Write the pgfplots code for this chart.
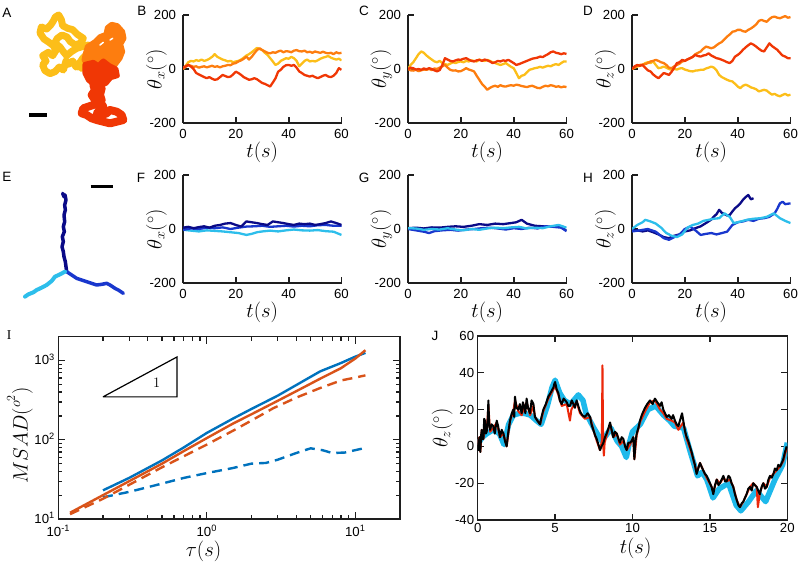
\documentclass[border=0pt]{standalone}
\usepackage{fontspec}
\setmainfont{Liberation Sans}
\usepackage{pgfplots}
\pgfplotsset{compat=1.18}
\definecolor{cY}{RGB}{252,190,25}
\definecolor{cO}{RGB}{253,125,15}
\definecolor{cR}{RGB}{240,55,5}
\definecolor{bN}{RGB}{10,10,135}
\definecolor{bM}{RGB}{25,55,205}
\definecolor{bC}{RGB}{45,190,235}
\definecolor{mB}{RGB}{0,114,189}
\definecolor{mO}{RGB}{217,83,25}
\definecolor{jC}{RGB}{30,185,235}
\definecolor{jR}{RGB}{235,40,10}
\definecolor{axc}{RGB}{30,30,30}
\pgfplotsset{
 tsax/.style={scale only axis, anchor=south west, width=158.5pt, height=108pt,
  axis lines=left, axis line style={-, line width=1.7pt, color=axc},
  xmin=0, xmax=60, ymin=-200, ymax=200, xtick={0,20,40,60}, ytick={-200,0,200},
  tick align=inside, major tick length=6pt, tick style={line width=1.7pt, color=axc},
  tick label style={font=\fontsize{13.2}{15}\selectfont},
  /pgf/number format/assume math mode=true,
  yticklabel style={xshift=-3.5pt}, xticklabel style={yshift=-2.5pt},
  label style={font=\fontsize{20.74}{23}\selectfont},
  xlabel={$t(s)$},
  xlabel style={at={(axis description cs:0.5,-0.27)}, anchor=center},
  ylabel style={at={(axis description cs:-0.168,0.5)}, anchor=center},
  every axis plot/.append style={line width=2.3pt, line join=round}},
 hid/.style={scale only axis, anchor=south west, hide axis, clip=false,
  every axis plot/.append style={line join=round, line cap=round}},
}
\begin{document}
\begin{tikzpicture}[x=1pt,y=1pt]
\useasboundingbox (0,0) rectangle (800,566);
\tikzset{lab/.style={font=\fontsize{13.5}{15}\selectfont, inner sep=0pt}}
\node[lab] at (7,553) {A};
\node[lab] at (142,555) {B};
\node[lab] at (364,555) {C};
\node[lab] at (588,555) {D};
\node[lab] at (7,389) {E};
\node[lab] at (141,388) {F};
\node[lab] at (364,388) {G};
\node[lab] at (588,388) {H};
\node[lab] at (9,231) {\fontspec{Liberation Serif}I};
\node[lab] at (435,230) {J};

% ---------- A ----------
\begin{axis}[hid, at={(0pt,436pt)}, width=130pt, height=125pt, xmin=0, xmax=390, ymin=-375, ymax=0]
\addplot[cY, line width=7pt] coordinates {(245,-190)(238,-178)(228,-186)(218,-168)(205,-178)(198,-168)(190,-195)(178,-186)(165,-200)(150,-206)(135,-197)(128,-180)(138,-168)(128,-152)(145,-142)(158,-152)(168,-136)(160,-122)(147,-112)(132,-102)(120,-84)(124,-66)(140,-72)(152,-60)(160,-48)(166,-36)(176,-30)(184,-44)(188,-62)(203,-70)(218,-74)(232,-88)(250,-100)(242,-114)(226,-120)(211,-110)(201,-96)(186,-90)(172,-100)(164,-114)(180,-126)(190,-140)(200,-152)(214,-140)(230,-130)(250,-124)(265,-120)(270,-136)(258,-150)(248,-160)(240,-172)(232,-186)};
\addplot[cO, fill=cO, line width=5pt] coordinates {(255,-150)(262,-125)(285,-110)(300,-95)(318,-88)(322,-68)(335,-58)(352,-62)(368,-80)(372,-100)(362,-118)(368,-140)(360,-160)(345,-180)(325,-190)(300,-195)(280,-190)(262,-178)(252,-165)(255,-150)};
\addplot[white, line width=1.5pt] coordinates {(300,-120)(310,-112)};
\addplot[white, line width=1.5pt] coordinates {(330,-105)(338,-100)};
\addplot[cR, fill=cR, line width=5pt] coordinates {(255,-178)(280,-172)(295,-182)(310,-168)(328,-182)(348,-192)(352,-212)(332,-218)(318,-235)(300,-240)(280,-238)(265,-225)(255,-205)(255,-178)};
\addplot[cR, line width=8pt] coordinates {(300,-235)(305,-250)(300,-270)(305,-285)(295,-295)(280,-300)(265,-305)(250,-310)(245,-325)(260,-330)(275,-340)(290,-345)(310,-350)(330,-355)(350,-350)(370,-345)(365,-330)(350,-320)(330,-315)(320,-325)(305,-330)(290,-325)(300,-315)(310,-305)(300,-290)(285,-285)(275,-270)(285,-255)(280,-240)};
\addplot[black, line width=3.5pt, line cap=butt] coordinates {(88,-330)(140,-330)};
\end{axis}

% ---------- B ----------
\begin{axis}[tsax, at={(183pt,443pt)}, ylabel={$\theta_x(^\circ)$}]
\addplot[cY] coordinates {(0,0)(1,12)(2,25)(3,30)(4,28)(5,33)(6,30)(7,35)(8,30)(9,33)(10,38)(11,45)(12,55)(13,45)(14,40)(15,35)(16,32)(17,28)(18,30)(19,25)(20,28)(21,30)(22,35)(23,42)(24,50)(25,55)(26,62)(27,70)(28,78)(29,74)(30,70)(31,60)(32,52)(33,40)(34,28)(35,15)(36,20)(37,30)(38,35)(39,40)(40,38)(41,45)(42,40)(43,30)(44,10)(45,20)(46,30)(47,35)(48,28)(49,30)(50,28)(51,32)(52,38)(53,42)(54,45)(55,48)(56,42)(57,38)(58,35)(59,38)(60,32)};
\addplot[cO] coordinates {(0,0)(1,8)(2,15)(3,12)(4,8)(5,10)(6,5)(7,8)(8,10)(9,6)(10,9)(11,12)(12,8)(13,10)(14,6)(15,10)(16,12)(17,15)(18,14)(19,20)(20,22)(21,28)(22,32)(23,38)(24,46)(25,35)(26,45)(27,58)(28,70)(29,77)(30,70)(31,65)(32,60)(33,58)(34,62)(35,60)(36,65)(37,68)(38,62)(39,66)(40,65)(41,62)(42,68)(43,70)(44,66)(45,65)(46,68)(47,62)(48,64)(49,60)(50,65)(51,62)(52,60)(53,64)(54,60)(55,58)(56,60)(57,55)(58,62)(59,58)(60,60)};
\addplot[cR] coordinates {(0,5)(1,10)(2,15)(3,9)(4,0)(5,-15)(6,-20)(7,-25)(8,-30)(9,-34)(10,-30)(11,-36)(12,-40)(13,-38)(14,-30)(15,-22)(16,-26)(17,-30)(18,-28)(19,-20)(20,-10)(21,-15)(22,-22)(23,-30)(24,-35)(25,-40)(26,-38)(27,-34)(28,-38)(29,-45)(30,-52)(31,-55)(32,-60)(33,-65)(34,-50)(35,-35)(36,-10)(37,-3)(38,8)(39,14)(40,15)(41,12)(42,15)(43,5)(44,-9)(45,-15)(46,-22)(47,-25)(48,-28)(49,-25)(50,-30)(51,-34)(52,-30)(53,-25)(54,-22)(55,-28)(56,-30)(57,-25)(58,-15)(59,3)(60,-3)};
\end{axis}

% ---------- C ----------
\begin{axis}[tsax, at={(408pt,443pt)}, ylabel={$\theta_y(^\circ)$}]
\addplot[cY] coordinates {(0,0)(1,15)(2,25)(3,40)(4,55)(5,65)(6,60)(7,50)(8,42)(9,35)(10,28)(11,25)(12,30)(13,22)(14,18)(15,15)(16,20)(17,25)(18,22)(19,26)(20,28)(21,25)(22,30)(23,28)(24,32)(25,30)(26,28)(27,35)(28,32)(29,30)(30,34)(31,30)(32,25)(33,22)(34,18)(35,15)(36,18)(37,22)(38,15)(39,8)(40,3)(41,-15)(42,-34)(43,-25)(44,-22)(45,-12)(46,-3)(47,0)(48,3)(49,5)(50,8)(51,5)(52,9)(53,12)(54,10)(55,15)(56,18)(57,15)(58,22)(59,28)(60,28)};
\addplot[cO] coordinates {(0,0)(1,-5)(2,-6)(3,-3)(4,-8)(5,-5)(6,-2)(7,-3)(8,0)(9,-4)(10,2)(11,0)(12,5)(13,10)(14,15)(15,5)(16,-3)(17,-6)(18,-5)(19,-9)(20,-8)(21,-3)(22,3)(23,-2)(24,-5)(25,-9)(26,-25)(27,-40)(28,-55)(29,-65)(30,-77)(31,-70)(32,-65)(33,-62)(34,-66)(35,-60)(36,-64)(37,-65)(38,-62)(39,-60)(40,-62)(41,-58)(42,-60)(43,-63)(44,-65)(45,-67)(46,-64)(47,-62)(48,-66)(49,-70)(50,-71)(51,-66)(52,-62)(53,-64)(54,-60)(55,-62)(56,-66)(57,-64)(58,-68)(59,-65)(60,-67)};
\addplot[cR] coordinates {(0,0)(1,5)(2,3)(3,-2)(4,0)(5,-3)(6,2)(7,-1)(8,3)(9,0)(10,-5)(11,-9)(12,-4)(13,15)(14,40)(15,35)(16,30)(17,28)(18,32)(19,35)(20,34)(21,38)(22,40)(23,35)(24,30)(25,28)(26,32)(27,34)(28,30)(29,35)(30,32)(31,28)(32,22)(33,25)(34,30)(35,28)(36,32)(37,30)(38,34)(39,28)(40,22)(41,15)(42,18)(43,22)(44,26)(45,30)(46,34)(47,38)(48,40)(49,42)(50,46)(51,44)(52,50)(53,55)(54,62)(55,65)(56,60)(57,58)(58,55)(59,58)(60,56)};
\end{axis}

% ---------- D ----------
\begin{axis}[tsax, at={(632pt,443pt)}, ylabel={$\theta_z(^\circ)$}]
\addplot[cY] coordinates {(0,0)(1,5)(2,9)(3,12)(4,15)(5,22)(6,25)(7,22)(8,28)(9,15)(10,3)(11,5)(12,9)(13,5)(14,0)(15,-3)(16,0)(17,-2)(18,2)(19,3)(20,-2)(21,-5)(22,-8)(23,-9)(24,-6)(25,-5)(26,-3)(27,-3)(28,2)(29,5)(30,9)(31,5)(32,-5)(33,-22)(34,-30)(35,-35)(36,-40)(37,-44)(38,-46)(39,-55)(40,-65)(41,-71)(42,-62)(43,-58)(44,-62)(45,-68)(46,-71)(47,-75)(48,-83)(49,-80)(50,-77)(51,-80)(52,-88)(53,-95)(54,-92)(55,-98)(56,-101)(57,-96)(58,-92)(59,-98)(60,-95)};
\addplot[cO] coordinates {(0,0)(2,12)(3,15)(5,18)(6,22)(7,28)(8,30)(9,34)(10,30)(11,25)(12,22)(13,15)(14,5)(15,3)(16,10)(17,15)(18,20)(19,28)(20,30)(21,35)(22,40)(23,45)(24,55)(25,60)(26,65)(27,75)(28,83)(29,80)(30,77)(31,80)(32,88)(33,95)(34,100)(35,110)(36,120)(37,128)(38,138)(39,140)(40,145)(41,145)(42,140)(43,138)(44,145)(45,150)(46,157)(47,165)(48,178)(49,182)(50,178)(51,175)(52,185)(53,192)(54,194)(55,190)(56,188)(57,192)(58,196)(59,190)(60,192)};
\addplot[cR] coordinates {(0,0)(1,10)(2,15)(3,12)(4,15)(5,5)(6,-5)(7,-9)(8,-20)(9,-28)(10,-34)(11,-25)(12,-15)(13,-18)(14,-22)(15,-10)(16,5)(17,22)(18,25)(19,34)(20,30)(21,36)(22,40)(23,45)(24,52)(25,48)(26,46)(27,50)(28,52)(29,58)(30,50)(31,45)(32,40)(33,38)(34,34)(35,30)(36,25)(37,22)(38,30)(39,46)(40,52)(41,60)(42,71)(43,80)(44,88)(45,95)(46,90)(47,83)(48,75)(49,68)(50,65)(51,80)(52,95)(53,85)(54,78)(55,71)(56,60)(57,50)(58,46)(59,40)(60,40)};
\end{axis}

% ---------- E ----------
\begin{axis}[hid, at={(0pt,266pt)}, width=140pt, height=125pt, xmin=0, xmax=420, ymin=-375, ymax=0]
\addplot[bN, line width=3.5pt] coordinates {(188,-55)(192,-65)(195,-60)(198,-75)(194,-90)(196,-105)(192,-120)(194,-140)(190,-155)(193,-170)(187,-185)(190,-200)(186,-215)(190,-230)(192,-245)(196,-260)(198,-275)(200,-290)};
\addplot[bM, line width=3.5pt] coordinates {(200,-290)(215,-300)(230,-310)(245,-315)(260,-320)(275,-325)(290,-330)(305,-328)(320,-325)(330,-330)(345,-340)(355,-345)(370,-355)};
\addplot[bC, line width=4pt] coordinates {(195,-290)(180,-298)(165,-305)(155,-318)(140,-330)(125,-338)(110,-345)(100,-352)(85,-358)(75,-365)};
\addplot[black, line width=3.5pt, line cap=butt] coordinates {(272,-35)(340,-35)};
\end{axis}

% ---------- F ----------
\begin{axis}[tsax, at={(183pt,283pt)}, ylabel={$\theta_x(^\circ)$}]
\addplot[bC] coordinates {(0,-3)(3,-6)(6,-9)(9,-5)(12,-7)(15,-9)(18,-12)(21,-15)(24,-22)(26,-18)(28,-12)(30,-9)(33,-6)(36,-9)(39,-5)(42,-2)(45,-5)(48,-6)(51,-4)(54,-8)(57,-10)(60,-22)};
\addplot[bM] coordinates {(0,-3)(3,2)(6,0)(9,5)(12,3)(15,6)(18,0)(21,5)(24,9)(27,10)(30,12)(33,8)(36,10)(39,12)(42,9)(45,12)(48,10)(51,14)(54,15)(57,12)(60,12)};
\addplot[bN] coordinates {(0,5)(2,8)(4,3)(6,7)(8,10)(10,5)(12,12)(14,15)(16,20)(18,22)(20,15)(22,9)(24,28)(26,25)(28,22)(30,18)(32,15)(34,28)(36,25)(38,22)(40,18)(42,15)(44,20)(46,18)(48,20)(50,15)(52,18)(54,22)(56,28)(58,22)(60,15)};
\end{axis}

% ---------- G ----------
\begin{axis}[tsax, at={(408pt,283pt)}, ylabel={$\theta_y(^\circ)$}]
\addplot[bN] coordinates {(0,3)(3,5)(6,2)(9,6)(12,5)(15,8)(18,10)(21,8)(24,12)(27,18)(30,15)(33,20)(36,18)(39,22)(41,25)(43,34)(45,20)(48,12)(51,10)(54,8)(57,12)(60,-6)};
\addplot[bM] coordinates {(0,0)(3,-5)(6,-10)(8,-15)(10,-8)(13,-5)(16,-3)(19,-6)(22,-2)(25,0)(28,3)(31,5)(34,2)(37,-2)(40,3)(43,0)(46,5)(49,2)(52,10)(55,8)(58,5)(60,-8)};
\addplot[bC] coordinates {(0,3)(3,2)(6,-3)(9,0)(12,-2)(15,3)(18,-2)(21,-5)(24,0)(27,-3)(30,2)(33,5)(36,3)(39,6)(42,8)(45,2)(48,5)(51,3)(54,10)(57,15)(60,5)};
\end{axis}

% ---------- H ----------
\begin{axis}[tsax, at={(632pt,283pt)}, ylabel={$\theta_z(^\circ)$}]
\addplot[bN] coordinates {(0,-3)(2,-5)(4,-9)(6,-5)(8,-12)(10,-20)(12,-30)(14,-34)(16,-25)(18,-20)(20,-9)(22,-5)(24,3)(26,10)(28,22)(30,35)(31,46)(32,55)(33,71)(34,60)(35,55)(36,50)(37,52)(38,65)(39,77)(40,85)(41,95)(42,108)(43,118)(44,126)(45,110)(46,114)};
\addplot[bM] coordinates {(0,-9)(3,-5)(6,0)(9,-10)(12,-34)(14,-40)(16,-30)(18,-20)(20,0)(22,9)(24,-5)(26,-22)(28,-18)(30,-15)(32,-20)(34,-15)(36,-10)(38,15)(40,25)(42,28)(44,34)(46,30)(48,38)(50,40)(52,45)(54,58)(55,75)(56,95)(57,101)(58,92)(60,95)};
\addplot[bC] coordinates {(0,0)(2,15)(4,25)(5,34)(7,28)(9,20)(11,5)(13,-15)(15,-25)(17,-30)(19,-20)(21,5)(23,15)(25,20)(27,30)(29,34)(31,38)(33,40)(35,58)(37,45)(38.5,22)(40,25)(42,30)(43.5,34)(46,38)(48.6,40)(51,45)(53.7,58)(56,40)(58,30)(60,22)};
\end{axis}

% ---------- I ----------
\begin{axis}[scale only axis, anchor=south west, at={(58.3pt,47pt)}, width=341.7pt, height=182.3pt,
  xmode=log, ymode=log, xmin=0.1, xmax=20, ymin=10, ymax=2000,
  xtick={0.1,1,10}, xticklabels={10\textsuperscript{-1},10\textsuperscript{0},10\textsuperscript{1}},
  ytick={10,100,1000}, yticklabels={10\textsuperscript{1},10\textsuperscript{2},10\textsuperscript{3}},
  minor xtick={0.2,0.3,0.4,0.5,0.6,0.7,0.8,0.9,2,3,4,5,6,7,8,9,20},
  minor ytick={20,30,40,50,60,70,80,90,200,300,400,500,600,700,800,900,2000},
  tick align=inside, major tick length=7pt, minor tick length=4pt,
  axis line style={line width=1.5pt, color=axc}, tick style={line width=1.3pt, color=axc},
  tick label style={font=\fontsize{13.2}{15}\selectfont},
  xticklabel style={yshift=-3pt}, yticklabel style={yshift=1pt},
  label style={font=\fontsize{20.74}{24}\selectfont},
  xlabel={$\tau(s)$}, ylabel={$MSAD(^{o^2})$},
  xlabel style={at={(axis description cs:0.425,-0.175)}, anchor=center},
  ylabel style={at={(axis description cs:-0.112,0.46)}, anchor=center},
  every axis plot/.append style={line width=2.4pt}]
\addplot[mB, dash pattern=on 10pt off 6pt] coordinates {(0.2,18.8)(0.3,22)(0.5,28)(0.7,33)(1,38)(1.5,44)(2,50)(2.5,51)(3,56)(4,68)(5,78)(6,74)(7,68)(8.5,69)(10,74)(11.7,79)};
\addplot[mO, dash pattern=on 10pt off 6pt] coordinates {(0.12,11.5)(0.2,18)(0.3,27)(0.5,45)(0.7,62)(1,87)(1.5,130)(2,175)(2.8,250)(4,340)(5.8,450)(8,560)(10,610)(11.7,650)};
\addplot[mB] coordinates {(0.2,23)(0.3,33)(0.5,55)(0.7,80)(1,122)(1.5,185)(2,245)(3,360)(4,490)(5.8,730)(8,930)(10,1120)(11.7,1250)};
\addplot[mO] coordinates {(0.12,12)(0.2,20)(0.3,30)(0.5,50)(0.7,72)(1,105)(1.5,160)(2,210)(3,310)(4,410)(5.8,590)(8,800)(10,1060)(11.7,1350)};
\addplot[black, line width=1.2pt, line join=miter] coordinates {(0.2,348)(0.63,1110)(0.63,348)(0.2,348)};
\node[font=\fontsize{14}{16}\selectfont] at (axis cs:0.46,516) {$1$};
\end{axis}

% ---------- J ----------
\begin{axis}[scale only axis, anchor=south west, at={(477.7pt,46pt)}, width=309.6pt, height=184pt,
  xmin=0, xmax=20, ymin=-40, ymax=60, xtick={0,5,10,15,20}, ytick={-40,-20,0,20,40,60},
  tick align=inside, major tick length=6pt,
  axis line style={line width=1.5pt, color=axc}, tick style={line width=1.3pt, color=axc},
  tick label style={font=\fontsize{13.2}{15}\selectfont},
  /pgf/number format/assume math mode=true,
  label style={font=\fontsize{20.74}{23}\selectfont},
  xlabel={$t(s)$}, ylabel={$\theta_z(^\circ)$},
  xlabel style={at={(axis description cs:0.51,-0.155)}, anchor=center},
  ylabel style={at={(axis description cs:-0.115,0.5)}, anchor=center},
  every axis plot/.append style={line join=round}]
\addplot[jC, line width=5.5pt] coordinates {(0,1)(0.3,5)(0.6,7)(1,9)(1.4,7)(1.7,1)(2,12)(2.3,17)(2.7,18)(3,18)(3.4,17)(3.8,14)(4.1,12)(4.5,22)(4.8,32)(5,36)(5.3,29)(5.6,25)(6,23)(6.5,28)(6.8,25)(7,18)(7.5,10)(8,3)(8.3,6)(8.6,10)(9,3)(9.3,0)(9.6,-6)(9.8,2)(10,8)(10.5,12)(11,20)(11.5,22)(12,17)(12.4,14)(12.7,11)(13.3,10)(13.7,-2)(14.2,-16)(14.5,-14)(14.8,-18)(15.2,-28)(15.6,-23)(16.2,-20)(16.7,-32)(17,-35)(17.5,-30)(18,-24)(18.6,-30)(19.2,-18)(19.7,-10)(20,2)};
\addplot[jR, line width=2pt] coordinates {(0,1)(0.11,5)(0.17,-3)(0.26,9)(0.37,4)(0.47,13)(0.58,8)(0.69,22)(0.8,8)(1.01,10)(1.23,13)(1.44,5)(1.66,7)(1.87,0)(2.09,14)(2.3,19)(2.41,25)(2.63,19)(2.84,17)(2.99,21)(3.16,24)(3.38,17)(3.6,22)(3.7,16)(4.03,12)(4.24,19)(4.56,26)(4.89,31)(5,33)(5.21,28)(5.43,22)(5.75,23)(5.96,14)(6.05,20)(6.18,22)(6.39,24)(6.61,18)(6.93,15)(7.26,16)(7.47,9)(7.69,3)(7.9,-2)(8.02,3)(8.06,44)(8.1,2)(8.15,-5)(8.2,2)(8.33,6)(8.55,12)(8.76,5)(8.98,7)(9.19,1)(9.41,3)(9.62,-2)(9.84,1)(10.05,5)(10.12,-7)(10.27,6)(10.48,13)(10.81,19)(11.13,24)(11.45,25)(11.78,20)(11.99,18)(12.21,15)(12.53,14)(12.74,13)(12.96,9)(13.28,13)(13.5,4)(13.71,-1)(13.93,-7)(14.14,-14)(14.36,-9)(14.57,-13)(14.79,-17)(15.11,-22)(15.22,-25)(15.44,-18)(15.65,-20)(15.87,-17)(16.08,-19)(16.3,-18)(16.51,-22)(16.73,-29)(16.94,-33)(17.16,-30)(17.37,-26)(17.59,-22)(17.8,-20)(18.02,-22)(18.1,-33)(18.23,-25)(18.45,-20)(18.67,-22)(18.88,-17)(19.1,-15)(19.31,-13)(19.53,-11)(19.74,-8)(19.96,-1)};
\addplot[black, line width=2pt] coordinates {(0,2)(0.05,-2)(0.11,5)(0.14,0)(0.17,-3)(0.22,6)(0.26,9)(0.3,4)(0.37,4)(0.42,15)(0.47,14)(0.52,7)(0.58,8)(0.64,13)(0.69,25)(0.74,12)(0.8,9)(0.9,12)(1.01,11)(1.1,7)(1.23,14)(1.32,11)(1.44,5)(1.55,9)(1.66,7)(1.76,3)(1.87,0)(1.98,8)(2.09,14)(2.2,18)(2.3,20)(2.36,16)(2.41,27)(2.5,21)(2.63,20)(2.72,23)(2.84,18)(2.92,24)(2.99,22)(3.08,18)(3.16,26)(3.25,21)(3.38,18)(3.48,25)(3.6,23)(3.65,19)(3.7,16)(3.85,14)(4.03,12)(4.12,16)(4.24,20)(4.4,23)(4.56,27)(4.7,29)(4.89,32)(4.95,34)(5,35)(5.1,31)(5.21,29)(5.3,25)(5.43,23)(5.55,26)(5.75,24)(5.85,22)(5.96,22)(6.08,25)(6.18,23)(6.28,21)(6.39,25)(6.5,22)(6.61,19)(6.75,17)(6.93,16)(7.1,18)(7.26,16)(7.35,12)(7.47,9)(7.58,6)(7.69,4)(7.8,1)(7.9,-2)(8.0,0)(8.12,2)(8.22,5)(8.33,7)(8.45,10)(8.55,13)(8.65,9)(8.76,5)(8.87,8)(8.98,7)(9.1,4)(9.19,2)(9.3,5)(9.41,4)(9.52,0)(9.62,-2)(9.73,2)(9.84,2)(9.95,3)(10.05,5)(10.12,-7)(10.2,3)(10.27,7)(10.38,10)(10.48,14)(10.6,17)(10.7,19)(10.81,21)(10.95,23)(11.13,25)(11.3,23)(11.45,26)(11.6,24)(11.78,22)(11.88,24)(11.99,20)(12.1,18)(12.21,16)(12.35,17)(12.53,15)(12.62,17)(12.74,14)(12.85,12)(12.96,11)(13.1,15)(13.2,18)(13.28,14)(13.4,8)(13.5,5)(13.6,3)(13.71,0)(13.82,-3)(13.93,-7)(14.03,-10)(14.14,-15)(14.25,-12)(14.36,-9)(14.46,-11)(14.57,-13)(14.68,-15)(14.79,-16)(14.95,-19)(15.11,-22)(15.22,-26)(15.33,-21)(15.44,-18)(15.55,-21)(15.65,-20)(15.76,-18)(15.87,-16)(15.98,-19)(16.08,-19)(16.2,-16)(16.3,-17)(16.4,-20)(16.51,-22)(16.62,-26)(16.73,-29)(16.84,-32)(16.94,-33)(17.05,-31)(17.16,-30)(17.26,-28)(17.37,-26)(17.48,-23)(17.59,-22)(17.7,-24)(17.8,-20)(17.9,-21)(18.02,-22)(18.12,-24)(18.23,-26)(18.34,-22)(18.45,-20)(18.56,-23)(18.67,-22)(18.78,-18)(18.88,-16)(19.0,-17)(19.1,-15)(19.2,-12)(19.31,-13)(19.42,-10)(19.53,-11)(19.64,-9)(19.74,-7)(19.85,-3)(19.96,0)};
\end{axis}
\end{tikzpicture}
\end{document}
